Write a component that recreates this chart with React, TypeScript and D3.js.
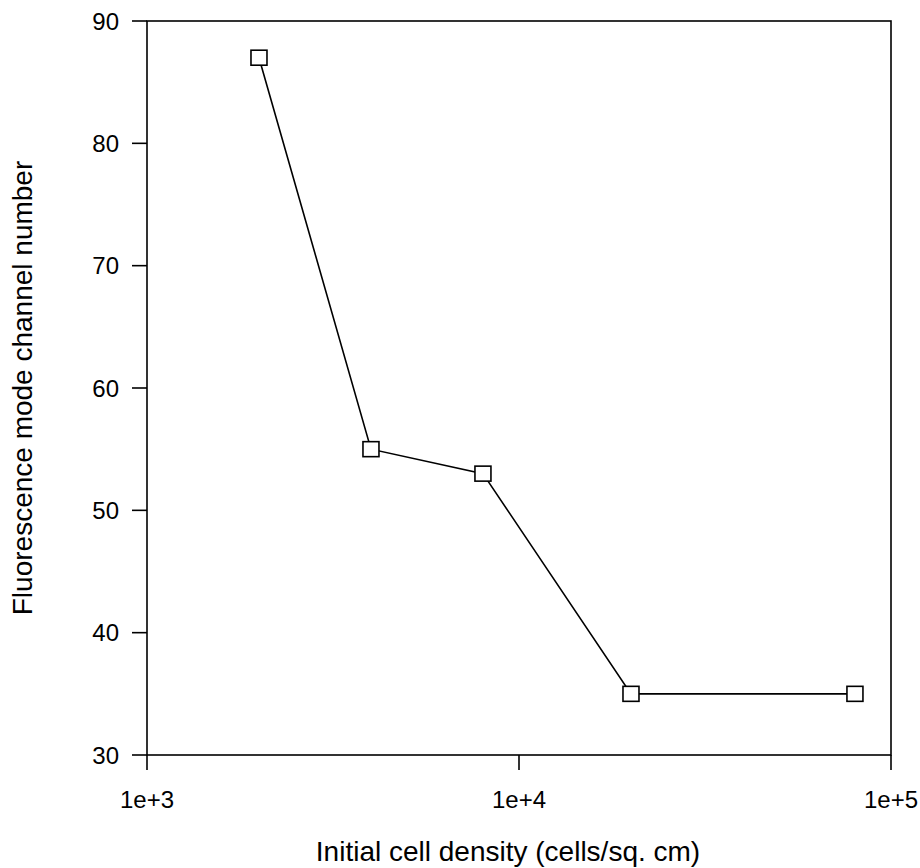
import React from 'react';
import * as d3 from 'd3';

const density = [2000, 4000, 8000, 20000, 80000];
const channel = [87, 55, 53, 35, 35];
const xTicks = [1e3, 1e4, 1e5];
const xTickLabels = ['1e+3', '1e+4', '1e+5'];
const yTicks = [30, 40, 50, 60, 70, 80, 90];

const width = 920;
const height = 868;
const margin = { top: 21, right: 29, bottom: 113, left: 147 };

const App = () => {
  const x = d3.scaleLog()
    .domain([1e3, 1e5])
    .range([margin.left, width - margin.right]);
  const y = d3.scaleLinear()
    .domain([30, 90])
    .range([height - margin.bottom, margin.top]);

  const line = d3.line<number>()
    .x((d, i) => x(density[i]))
    .y(d => y(d));

  const font = 'Arial, "Liberation Sans", sans-serif';
  const bottom = height - margin.bottom;

  return (
    <svg width={width} height={height} style={{ position: 'absolute', left: 0, top: 0, background: '#fff' }}>
      {/* plot frame */}
      <rect x={margin.left} y={margin.top} width={width - margin.left - margin.right} height={bottom - margin.top}
        fill="none" stroke="#000" strokeWidth={1.6} />

      {/* y axis ticks */}
      {yTicks.map(t => (
        <g key={t}>
          <line x1={margin.left - 15} x2={margin.left} y1={y(t)} y2={y(t)} stroke="#000" strokeWidth={1.6} />
          <text x={margin.left - 28} y={y(t)} dy="0.36em" textAnchor="end" fontFamily={font} fontSize={24}>{t}</text>
        </g>
      ))}

      {/* x axis ticks */}
      {xTicks.map((t, i) => (
        <g key={t}>
          <line x1={x(t)} x2={x(t)} y1={bottom} y2={bottom + 15} stroke="#000" strokeWidth={1.6} />
          <text x={x(t)} y={bottom + 53} textAnchor="middle" fontFamily={font} fontSize={24}>{xTickLabels[i]}</text>
        </g>
      ))}

      <path d={line(channel) || ''} fill="none" stroke="#000" strokeWidth={1.6} />
      {channel.map((v, i) => (
        <rect key={i} x={x(density[i]) - 8} y={y(v) - 7.5} width={16} height={15}
          fill="#fff" stroke="#000" strokeWidth={1.6} />
      ))}

      <text x={508} y={861} textAnchor="middle" fontFamily={font} fontSize={28}>
        Initial cell density (cells/sq. cm)
      </text>
      <text transform={`translate(32,${(margin.top + bottom) / 2}) rotate(-90)`} textAnchor="middle" fontFamily={font} fontSize={28}>
        Fluorescence mode channel number
      </text>
    </svg>
  );
};

export default App;
